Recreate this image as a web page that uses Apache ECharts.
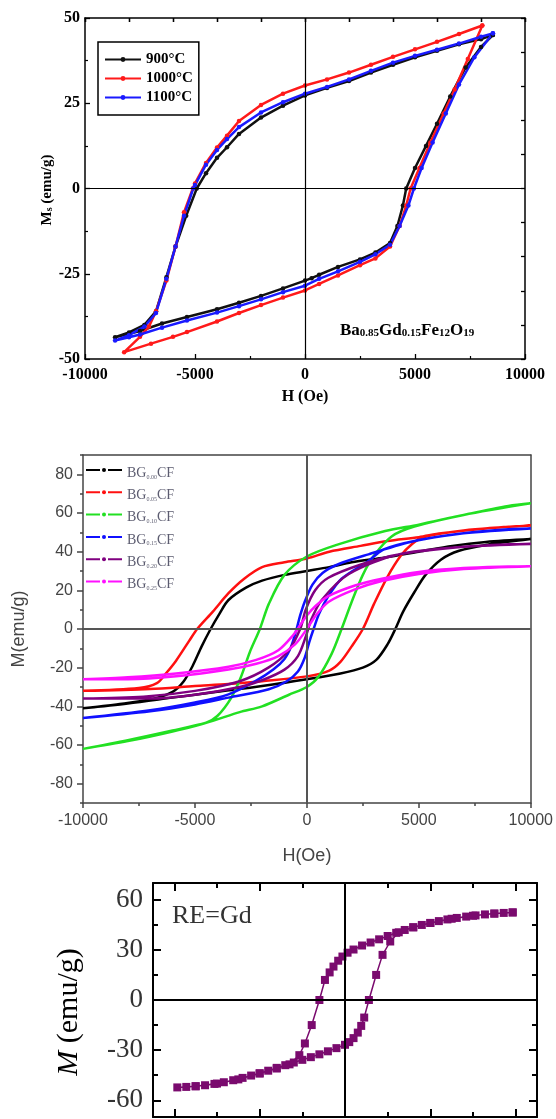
<!DOCTYPE html>
<html><head><meta charset="utf-8">
<script src="https://cdn.jsdelivr.net/npm/echarts@6/dist/echarts.min.js"></script>
<style>html,body{margin:0;padding:0;background:#fff}#c{width:556px;height:1119px}</style>
</head><body><div id="c"></div>
<script>
// ---------- Panel 1 : Ba0.85Gd0.15Fe12O19 at three temperatures ----------
const p1Names = ['900°C', '1000°C', '1100°C'];
const p1Colors = ['#111111', '#ff1a1a', '#1a1aff'];
const p1T900 = [[8540,45],[8000,43.8],[7000,42.3],[6000,40.4],[5000,38.5],[4000,36.3],[3000,34],[2000,31.5],[1000,29.5],[0,27.3],[-1000,24.3],[-2000,20.8],[-3000,16],[-3545,12.1],[-4000,9],[-4500,4.5],[-4920,0],[-5400,-8],[-5885,-17],[-6300,-26],[-6772,-36],[-7300,-40],[-8000,-42.2],[-8634,-43.6],
 [-8000,-42.6],[-7500,-41.8],[-6500,-39.6],[-5366,-37.7],[-4000,-35.4],[-3000,-33.5],[-2000,-31.5],[-1000,-29.3],[0,-27],[300,-26.3],[642,-25.3],[1500,-23],[2500,-20.8],[3200,-18.8],[3865,-16],[4200,-11],[4450,-5],[4600,0],[5000,6],[5500,12.5],[6000,19],[6600,27],[7300,35.5],[8000,41.5],[8540,45]];
const p1T1000 = [[8060,47.8],[7000,45.3],[6000,43],[5000,40.8],[4000,38.6],[3000,36.3],[2000,34],[1000,32],[0,30.2],[-1000,27.8],[-2000,24.5],[-3000,19.8],[-3545,15.5],[-4000,12],[-4500,7.5],[-5000,1.5],[-5100,0],[-5500,-7],[-5885,-17],[-6300,-27],[-6772,-36],[-7095,-40.5],[-7500,-43.5],[-8222,-48],
 [-7000,-45.5],[-6000,-43.5],[-5366,-42.1],[-4000,-39],[-3000,-36.5],[-2000,-34.2],[-1000,-32],[0,-29.9],[642,-28],[1500,-25.5],[2500,-22.5],[3200,-20.5],[3865,-17],[4300,-11],[4600,-5],[4800,0],[5200,6],[5700,13.5],[6300,22],[6800,29],[7400,38],[8060,47.8]];
const p1T1100 = [[8540,45.5],[8000,44.5],[7000,42.5],[6000,40.7],[5000,38.9],[4000,36.9],[3000,34.5],[2000,32],[1000,29.8],[0,27.8],[-1000,25.3],[-2000,22.3],[-3000,18],[-3545,14.5],[-4000,11.3],[-4500,7],[-5000,1],[-5080,0],[-5500,-8],[-5885,-17],[-6300,-26.5],[-6772,-36.5],[-7300,-40.5],[-8000,-43],[-8634,-44.6],
 [-8000,-43.6],[-7500,-42.8],[-6500,-40.8],[-5366,-38.7],[-4000,-36.4],[-3000,-34.5],[-2000,-32.5],[-1000,-30.4],[0,-28.5],[642,-26.5],[1500,-24.3],[2500,-21.5],[3200,-19.3],[3865,-16.5],[4300,-11],[4700,-5],[4950,0],[5300,6],[5800,13.5],[6400,22],[7000,30.5],[7700,38.5],[8540,45.5]];

// ---------- Panel 2 : BGxCF series ----------
const p2Names = ['BG0.00CF','BG0.05CF','BG0.10CF','BG0.15CF','BG0.20CF','BG0.25CF'];
const p2Subs = ['0.00','0.05','0.10','0.15','0.20','0.25'];
const p2Colors = ['#000000','#ff1010','#22e022','#1010ff','#800080','#ff10ff'];
const p2S0 = [[10000,46.5],[8000,45],[6500,43],[5000,40],[3500,37],[2000,34.5],[1000,32],[0,30],[-1000,28],[-2000,25],[-2700,21.5],[-3500,15],[-3900,8],[-4300,0],[-4700,-9],[-5100,-19],[-5500,-27],[-6000,-32.5],[-7000,-36.5],[-8500,-39],[-10000,-41],
 [-8000,-38.5],[-6000,-35.5],[-4000,-32.5],[-2000,-29.5],[0,-26],[1500,-23],[2500,-20],[3100,-16],[3600,-8],[3950,0],[4300,9],[4800,19],[5300,28],[6000,36],[6800,40.5],[8000,43.5],[10000,46.5]];
const p2S1 = [[10000,53.5],[8000,52],[6000,49.5],[5000,47.5],[3600,45.5],[2400,43],[1000,40],[0,36.5],[-1000,34.5],[-2000,32],[-2800,26],[-3500,18.5],[-4200,9],[-4900,0],[-5250,-6],[-5850,-16.5],[-6300,-23],[-6700,-28],[-7500,-30.5],[-10000,-32],
 [-7000,-31],[-5000,-29.5],[-3500,-28.5],[-2000,-27],[0,-24.5],[1000,-21.5],[1500,-17],[2000,-9],[2500,0],[3000,13],[3600,27],[4200,38],[4700,44],[5200,47.5],[7000,51],[10000,53.5]];
const p2S2 = [[10000,65],[9000,63.6],[7000,59],[5000,54],[3500,50.7],[1400,43.8],[0,37.5],[-1000,28],[-1700,13],[-2100,0],[-2550,-12],[-2950,-25],[-3400,-36],[-4000,-45],[-4500,-48.5],[-6000,-53],[-8000,-58],[-10000,-62],
 [-8000,-57.5],[-6000,-52.5],[-4500,-48.5],[-3000,-43],[-2000,-40],[-800,-34],[0,-30],[500,-25],[1100,-13],[1550,0],[2000,14],[2500,28],[3000,38],[3800,48],[4800,53],[7000,59],[10000,65]];
const p2S3 = [[10000,52],[9000,51.6],[7000,49.5],[4800,45.5],[2750,38.6],[1400,33.5],[700,29],[250,23],[-100,14],[-300,7],[-460,0],[-700,-9],[-1000,-15.5],[-1500,-21],[-2300,-27],[-3500,-33.8],[-5000,-38],[-7000,-42],[-10000,-46],
 [-7000,-42.5],[-5000,-39],[-3500,-35.5],[-1700,-31.2],[-900,-27],[-400,-22],[-100,-15],[100,-7],[300,0],[550,8],[960,17],[1550,26],[2750,35.2],[3400,41],[4800,45.5],[7000,49.5],[10000,52]];
const p2S4 = [[10000,44],[9000,43.8],[7000,42.5],[4100,38.6],[2450,33.5],[960,26.5],[370,20],[-50,10],[-300,0],[-830,-11.4],[-1720,-20],[-3000,-27],[-5000,-32],[-7300,-35],[-10000,-36],
 [-7000,-36],[-5000,-34],[-3000,-30],[-2000,-26.5],[-1000,-21],[-400,-14],[-50,-4],[200,5],[663,15],[1857,28.3],[4094,38.6],[7000,42.5],[10000,44]];
const p2S5 = [[10000,32.5],[9000,32.3],[7000,31.5],[5000,29.5],[3350,26],[2150,22.5],[960,17],[400,12],[0,7],[-300,2],[-600,-3],[-1275,-11],[-2260,-16],[-3500,-19.5],[-5840,-23],[-8000,-25],[-10000,-26],
 [-8000,-26],[-5840,-24.5],[-3500,-21],[-2260,-18],[-1275,-14],[-530,-8],[0,0],[400,7],[960,14],[2150,20.5],[3350,24.8],[5000,28.5],[7000,31],[10000,32.5]];
const p2Data = [p2S0, p2S1, p2S2, p2S3, p2S4, p2S5];
const p2YTicks = [-80,-60,-40,-20,0,20,40,60,80];

// ---------- Panel 3 : RE=Gd (H in kOe, tick labels cut off in the source) ----------
const p3Loop = [[19.65,52.4],[18.6,52.1],[17.5,51.7],[16.4,51.2],[15.3,50.6],[14.2,49.9],[13.1,49.1],[12,48.2],[11,47.2],[10,46.1],[9,44.9],[8,43.5],[7,41.9],[6,40.2],[5,38.3],[4,36.3],[3,34.4],[2,32.6],[1,30.2],[0.3,28.3],[-0.3,26],[-0.8,23.5],[-1.35,20],[-1.8,16.5],[-2.35,12],[-3.0,0],[-3.9,-15],[-4.7,-26],[-5.35,-33],[-6.5,-38.5],[-8,-41],[-10,-44],[-12.5,-47.5],[-15,-50],[-17.5,-51.6],[-19.65,-52.3],
 [-18.6,-52],[-17.5,-51.6],[-16.4,-51],[-15.3,-50.2],[-14.2,-49.2],[-13.1,-48],[-12,-46.6],[-11,-45.2],[-10,-43.8],[-9,-42.3],[-8,-40.6],[-7,-39],[-6,-37.4],[-5,-35.8],[-4,-34.2],[-3,-32.5],[-2,-30.7],[-1,-28.8],[0,-26.8],[0.5,-25.2],[1.0,-22.8],[1.5,-19.5],[1.9,-15.5],[2.25,-10.5],[2.8,0],[3.65,15],[4.4,27],[5.3,35],[6.3,40.5],[8,43.5],[10,46.1],[12.5,48.6],[15,50.4],[17.5,51.7],[19.65,52.4]];
const p3YTicks = [-60,-30,0,30,60];
const p3YMinor = [-45,-15,15,45];
const p3XTicks = [-20,-10,0,10,20];
const p3XMinor = [-15,-5,5,15];

const serif = 'Liberation Serif';
const sans = 'Liberation Sans';

const chart = echarts.init(document.getElementById('c'), null, {renderer: 'canvas'});

function baseAxis(o) {
  const a = Object.assign({type: 'value', splitLine: {show: false}}, o);
  a.axisLine = Object.assign({onZero: false}, a.axisLine || {});
  if (a.axisTick && a.axisTick.show !== false) a.axisTick = Object.assign({show: true}, a.axisTick);
  return a;
}
const hide = function () { return {show: false}; };
const plain = function (v) { return String(v); };

const xAxes = [
  // panel 1
  baseAxis({gridIndex: 0, position: 'bottom', min: -10000, max: 10000, interval: 5000,
    axisLine: {lineStyle: {color: '#000', width: 1.5}},
    axisTick: {inside: true, length: 5, lineStyle: {color: '#000', width: 1.3}},
    minorTick: {show: true, splitNumber: 2, length: 3, lineStyle: {color: '#000', width: 1.2}},
    axisLabel: {formatter: plain, fontFamily: serif, fontWeight: 'bold', fontSize: 16, color: '#000', margin: 8},
    name: 'H (Oe)', nameLocation: 'middle', nameGap: 30,
    nameTextStyle: {fontFamily: serif, fontWeight: 'bold', fontSize: 16, color: '#000'}}),
  baseAxis({gridIndex: 0, position: 'top', min: -10000, max: 10000, interval: 2000,
    axisLine: {lineStyle: {color: '#000', width: 1.5}},
    axisTick: {inside: true, length: 4, lineStyle: {color: '#000', width: 1.3}}, axisLabel: hide()}),
  // panel 2
  baseAxis({gridIndex: 1, position: 'bottom', min: -10000, max: 10000, interval: 5000,
    axisLine: {lineStyle: {color: '#444', width: 1.5}},
    axisTick: {length: 5, lineStyle: {color: '#444', width: 1.5}},
    minorTick: {show: true, splitNumber: 2, length: 3, lineStyle: {color: '#444', width: 1.5}},
    axisLabel: {formatter: plain, fontFamily: sans, fontSize: 16, color: '#444', margin: 10},
    name: 'H(Oe)', nameLocation: 'middle', nameGap: 44,
    nameTextStyle: {fontFamily: sans, fontSize: 18, color: '#444'}}),
  baseAxis({gridIndex: 1, position: 'top', min: -10000, max: 10000,
    axisLine: {lineStyle: {color: '#444', width: 1.5}}, axisTick: hide(), axisLabel: hide()}),
  // panel 3
  baseAxis({gridIndex: 2, position: 'bottom', min: -22.5, max: 22.5,
    axisLine: {lineStyle: {color: '#000', width: 2}},
    axisTick: {inside: true, length: 8, customValues: p3XTicks, lineStyle: {color: '#000', width: 2}}, axisLabel: hide()}),
  baseAxis({gridIndex: 2, position: 'bottom', min: -22.5, max: 22.5, axisLine: {show: false},
    axisTick: {inside: true, length: 5, customValues: p3XMinor, lineStyle: {color: '#000', width: 2}}, axisLabel: hide()}),
  baseAxis({gridIndex: 2, position: 'top', min: -22.5, max: 22.5,
    axisLine: {lineStyle: {color: '#000', width: 2}},
    axisTick: {inside: true, length: 8, customValues: p3XTicks, lineStyle: {color: '#000', width: 2}}, axisLabel: hide()}),
  baseAxis({gridIndex: 2, position: 'top', min: -22.5, max: 22.5, axisLine: {show: false},
    axisTick: {inside: true, length: 5, customValues: p3XMinor, lineStyle: {color: '#000', width: 2}}, axisLabel: hide()}),
  // extra tick rows drawn along the top frames (bottom axes shifted up, ticks pointing down into the plot)
  baseAxis({gridIndex: 0, position: 'bottom', offset: -341, min: -10000, max: 10000, interval: 2000, axisLine: {show: false},
    axisTick: {inside: false, length: 4, lineStyle: {color: '#000', width: 1.3}}, axisLabel: hide()}),
  baseAxis({gridIndex: 2, position: 'bottom', offset: -234, min: -22.5, max: 22.5, axisLine: {show: false},
    axisTick: {inside: false, length: 8, customValues: p3XTicks, lineStyle: {color: '#000', width: 2}}, axisLabel: hide()}),
  baseAxis({gridIndex: 2, position: 'bottom', offset: -234, min: -22.5, max: 22.5, axisLine: {show: false},
    axisTick: {inside: false, length: 5, customValues: p3XMinor, lineStyle: {color: '#000', width: 2}}, axisLabel: hide()})
];

const yAxes = [
  // panel 1
  baseAxis({gridIndex: 0, position: 'left', min: -50, max: 50, interval: 25,
    axisLine: {lineStyle: {color: '#000', width: 1.5}},
    axisTick: {inside: true, length: 5, lineStyle: {color: '#000', width: 1.3}},
    minorTick: {show: true, splitNumber: 2, length: 3, lineStyle: {color: '#000', width: 1.2}},
    axisLabel: {fontFamily: serif, fontWeight: 'bold', fontSize: 16, color: '#000', margin: 5}}),
  baseAxis({gridIndex: 0, position: 'right', min: -50, max: 50, interval: 10,
    axisLine: {lineStyle: {color: '#000', width: 1.5}},
    axisTick: {inside: true, length: 4, lineStyle: {color: '#000', width: 1.3}}, axisLabel: hide()}),
  // panel 2
  baseAxis({gridIndex: 1, position: 'left', min: -90, max: 90,
    axisLine: {lineStyle: {color: '#444', width: 1.5}},
    axisTick: {length: 6, customValues: p2YTicks, lineStyle: {color: '#444', width: 1.5}},
    axisLabel: {customValues: p2YTicks, fontFamily: sans, fontSize: 16, color: '#444', margin: 10},
    name: 'M(emu/g)', nameLocation: 'middle', nameGap: 55,
    nameTextStyle: {fontFamily: sans, fontSize: 18, color: '#444'}}),
  baseAxis({gridIndex: 1, position: 'left', min: -90, max: 90, interval: 10, axisLine: {show: false},
    axisTick: {length: 3, lineStyle: {color: '#444', width: 1.5}}, axisLabel: hide()}),
  baseAxis({gridIndex: 1, position: 'right', min: -90, max: 90,
    axisLine: {lineStyle: {color: '#444', width: 1.5}}, axisTick: hide(), axisLabel: hide()}),
  // panel 3
  baseAxis({gridIndex: 2, position: 'left', min: -70, max: 70,
    axisLine: {lineStyle: {color: '#000', width: 2}},
    axisTick: {inside: true, length: 8, customValues: p3YTicks, lineStyle: {color: '#000', width: 2}},
    axisLabel: {customValues: p3YTicks, fontFamily: serif, fontSize: 27, color: '#333', margin: 10}}),
  baseAxis({gridIndex: 2, position: 'left', min: -70, max: 70, axisLine: {show: false},
    axisTick: {inside: true, length: 5, customValues: p3YMinor, lineStyle: {color: '#000', width: 2}}, axisLabel: hide()}),
  baseAxis({gridIndex: 2, position: 'right', min: -70, max: 70,
    axisLine: {lineStyle: {color: '#000', width: 2}},
    axisTick: {inside: true, length: 8, customValues: p3YTicks, lineStyle: {color: '#000', width: 2}}, axisLabel: hide()}),
  baseAxis({gridIndex: 2, position: 'right', min: -70, max: 70, axisLine: {show: false},
    axisTick: {inside: true, length: 5, customValues: p3YMinor, lineStyle: {color: '#000', width: 2}}, axisLabel: hide()})
];

function cross(color, width) {
  return {silent: true, symbol: 'none', label: {show: false},
    lineStyle: {color: color, width: width, type: 'solid'},
    data: [{xAxis: 0}, {yAxis: 0}]};
}

const series = [];
[p1T900, p1T1000, p1T1100].forEach(function (d, i) {
  series.push({name: p1Names[i], type: 'line', xAxisIndex: 0, yAxisIndex: 0, data: d,
    symbol: 'circle', symbolSize: 4.5, showSymbol: true,
    itemStyle: {color: p1Colors[i]}, lineStyle: {color: p1Colors[i], width: 2.5},
    markLine: i === 0 ? cross('#000', 1.2) : undefined, z: 3});
});
p2Data.forEach(function (d, i) {
  series.push({name: p2Names[i], type: 'line', xAxisIndex: 2, yAxisIndex: 2, data: d,
    smooth: 0.3, symbol: 'circle', symbolSize: 3, showSymbol: false,
    itemStyle: {color: p2Colors[i]}, lineStyle: {color: p2Colors[i], width: 2.5},
    markLine: i === 0 ? cross('#555', 2) : undefined, z: 3});
});
series.push({name: 'RE=Gd', type: 'line', xAxisIndex: 4, yAxisIndex: 5, data: p3Loop,
  symbol: 'rect', symbolSize: 8, showSymbol: true,
  itemStyle: {color: '#7a0a6e'}, lineStyle: {color: '#7a0a6e', width: 1.5},
  markLine: cross('#000', 2), z: 3});

const subRich = function (big, small, color, weight) {
  return {
    a: {fontFamily: serif, fontSize: big, fontWeight: weight, color: color, lineHeight: big + 6, verticalAlign: 'bottom'},
    s: {fontFamily: serif, fontSize: small, fontWeight: weight, color: color, lineHeight: small, verticalAlign: 'bottom'}
  };
};

chart.setOption({
  animation: false,
  backgroundColor: '#fff',
  grid: [
    {left: 85, top: 18, width: 440, height: 341},
    {left: 83, top: 455, width: 449, height: 348},
    {left: 153, top: 883, width: 384, height: 234}
  ],
  xAxis: xAxes,
  yAxis: yAxes,
  legend: [
    {data: p1Names, orient: 'vertical', left: 98, top: 42, itemWidth: 36, itemHeight: 6, itemGap: 4,
      borderColor: '#000', borderWidth: 1.5, padding: [10, 6, 10, 6],
      textStyle: {fontFamily: serif, fontWeight: 'bold', fontSize: 15, color: '#000'}},
    {data: p2Names, orient: 'vertical', left: 85, top: 466, itemWidth: 36, itemHeight: 5, itemGap: 8.3,
      padding: 0, lineStyle: {type: [14, 8]},
      formatter: function (n) { return '{a|BG}{s|' + p2Subs[p2Names.indexOf(n)] + '}{a|CF}'; },
      textStyle: {rich: subRich(14, 6, '#5c5c70', 'normal')}}
  ],
  graphic: [
    {type: 'text', x: 44, y: 190, rotation: Math.PI / 2,
      style: {text: '{a|M}{s|s}{a| (emu/g)}', align: 'center', verticalAlign: 'middle', rich: subRich(15, 10, '#000', 'bold')}},
    {type: 'text', x: 340, y: 316,
      style: {text: '{a|Ba}{s|0.85}{a|Gd}{s|0.15}{a|Fe}{s|12}{a|O}{s|19}', rich: subRich(17, 11, '#111', 'bold')}},
    {type: 'text', x: 172, y: 903,
      style: {text: 'RE=Gd', fontFamily: serif, fontSize: 26, fill: '#333'}},
    {type: 'text', x: 69, y: 1012, rotation: Math.PI / 2,
      style: {text: '{i|M}{r| (emu/g)}', align: 'center', verticalAlign: 'middle',
        rich: {i: {fontFamily: serif, fontStyle: 'italic', fontSize: 30, color: '#333'}, r: {fontFamily: serif, fontSize: 30, color: '#333'}}}}
  ],
  series: series
});
</script>
</body></html>
